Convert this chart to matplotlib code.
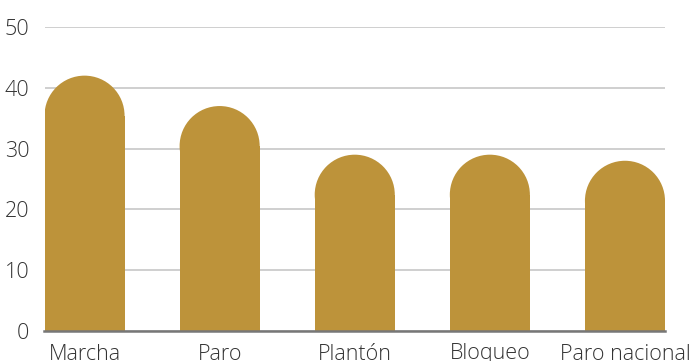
import matplotlib
matplotlib.use('Agg')
from matplotlib import pyplot as plt
from matplotlib.patches import Ellipse

categories = ['Marcha', 'Paro', 'Plantón', 'Bloqueo', 'Paro nacional']
values = [42, 37, 29, 29, 28]
yticks = [0, 10, 20, 30, 40, 50]

plt.rcParams['font.family'] = ['Open Sans', 'DejaVu Sans']
color = '#bd933a'

W, H = 693, 361
fig = plt.figure(figsize=(W / 100, H / 100), dpi=100)
left, right, bottom, top = 44.5, 665, 331, 27
ax = fig.add_axes([left / W, 1 - bottom / H, (right - left) / W, (bottom - top) / H])

bw = 80 / 135
ax.set_xlim(-bw / 2, len(categories) - 1 + bw / 2)
ax.set_ylim(0, 50)

# radius of the round cap in data units (half the bar width, in pixels)
px_per_y = (bottom - top) / 50
r_y = 40 / px_per_y

for i, v in enumerate(values):
    ax.bar(i, v - r_y, width=bw, color=color, zorder=3)
    ax.add_patch(Ellipse((i, v - r_y), bw, 2 * r_y, color=color, zorder=3, lw=0))

ax.set_yticks(yticks)
ax.set_xticks(range(len(categories)))
ax.set_xticklabels(categories)
ax.grid(axis='y', color='#cccccc', lw=1.3, zorder=0)
for s in ['top', 'right', 'left']:
    ax.spines[s].set_visible(False)
ax.spines['bottom'].set_color('#777777')
ax.spines['bottom'].set_linewidth(1.8)
ax.spines['bottom'].set_zorder(4)
ax.tick_params(axis='both', length=0, labelsize=15.5, labelcolor='#333333')
ax.tick_params(axis='y', pad=11)
ax.tick_params(axis='x', pad=9)
for t in ax.get_xticklabels() + ax.get_yticklabels():
    t.set_fontweight('light')

fig.savefig('out.png', dpi=100)
